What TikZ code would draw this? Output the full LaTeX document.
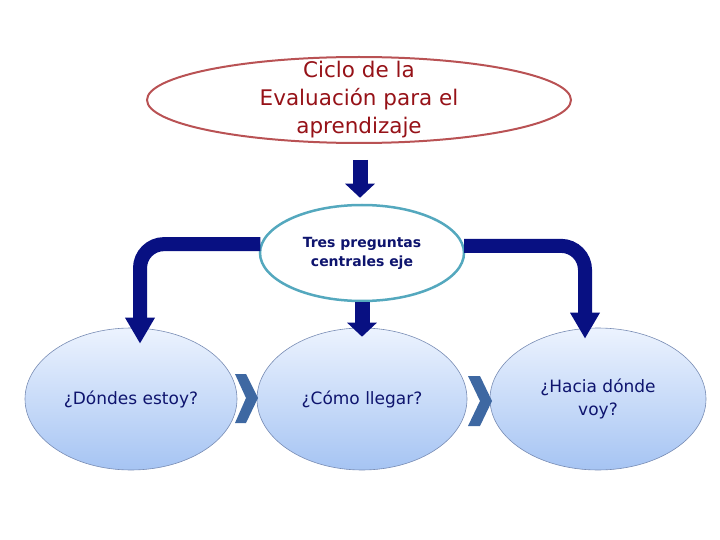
\documentclass[tikz,border=0pt]{standalone}
\usepackage{fontspec}
\setmainfont{DejaVu Sans}
\usepackage{tikz}
\usetikzlibrary{arrows.meta, positioning, shapes.geometric, calc}
\usepackage{xcolor}
\definecolor{navyarr}{RGB}{8,16,130}
\definecolor{titlered}{RGB}{150,18,24}
\definecolor{titleborder}{RGB}{185,82,84}
\definecolor{tealborder}{RGB}{84,168,190}
\definecolor{qtext}{RGB}{14,20,110}
\definecolor{chev}{RGB}{62,104,162}
\definecolor{qtop}{RGB}{236,243,254}
\definecolor{qbottom}{RGB}{166,196,243}
\definecolor{qborder}{RGB}{120,140,180}

\begin{document}
\begin{tikzpicture}[
    x=1pt, y=-1pt,
    title/.style={draw=titleborder, line width=2pt, ellipse, inner xsep=0pt, inner ysep=-9pt,
                  minimum width=424pt, minimum height=86pt, align=center,
                  text=titlered, font=\fontsize{21.5}{28}\selectfont},
    hub/.style={draw=tealborder, line width=2.5pt, ellipse, fill=white, inner sep=0pt,
                minimum width=204pt, minimum height=96pt, align=center,
                text=qtext, font=\fontsize{14}{19}\selectfont\bfseries},
    quest/.style={draw=qborder, line width=0.6pt, ellipse, inner sep=0pt,
                  minimum width=212pt, minimum height=142pt, align=center,
                  top color=qtop, bottom color=qbottom,
                  text=qtext, font=\fontsize{17}{23}\selectfont},
    shortarr/.style={draw=navyarr, line width=15pt,
                     -{Triangle[length=14pt, width=29pt]}},
    bigarr/.style={draw=navyarr, line width=14pt, rounded corners=24pt,
                   -{Triangle[length=26pt, width=28pt]}},
]
\useasboundingbox (0,0) rectangle (720,540);

\node[title] (ciclo) at (359,100) {Ciclo de la\\Evaluación para el\\aprendizaje};
\node[hub] (tres) at (362,253) {Tres preguntas\\centrales eje};
\node[quest] (donde) at (131,399) {¿Dóndes estoy?};
\node[quest, minimum width=210pt] (como) at (362,399) {¿Cómo llegar?};
\node[quest, minimum width=216pt] (hacia) at (598,399) {¿Hacia dónde\\voy?};

% flechas
\draw[shortarr, shorten <=16pt, shorten >=6pt] ([xshift=1pt]ciclo.south) -- ([xshift=1pt]ciclo.south |- tres.north);
\draw[shortarr, shorten >=-9pt] (tres.south) -- (como.north);
\draw[bigarr] (tres.175.5) -| ([xshift=9pt, yshift=-16pt]donde.north);
\draw[bigarr] (tres.4.5) -| ([xshift=-13pt, yshift=-11pt]hacia.north);

% chevrons
\fill[chev] (235,374) -- (246,374) -- (258,398) -- (246,423) -- (235,423) -- (246,398) -- cycle;
\fill[chev] (468,376) -- (480,376) -- (492,401) -- (480,426) -- (468,426) -- (480,401) -- cycle;
\end{tikzpicture}
\end{document}
